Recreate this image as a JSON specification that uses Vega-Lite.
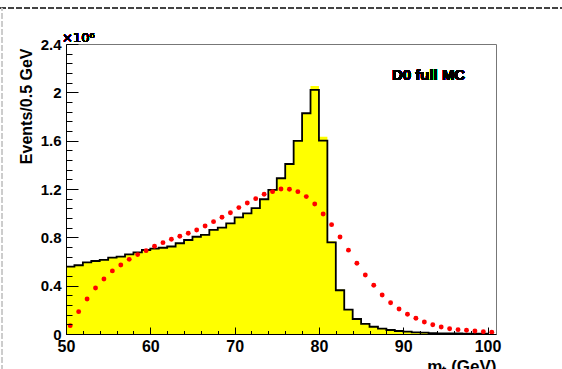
{
  "$schema": "https://vega.github.io/schema/vega-lite/v6.json",
  "width": 430,
  "height": 290,
  "autosize": "none",
  "padding": {"left": 66, "top": 44, "right": 66, "bottom": 35},
  "background": "white",
  "config": {
    "view": {"stroke": "#777", "strokeWidth": 1},
    "axis": {"grid": false, "domainColor": "black", "tickColor": "black", "labelColor": "black", "titleColor": "black", "labelFont": "Liberation Sans", "titleFont": "Liberation Sans", "labelFontWeight": "bold", "titleFontWeight": "bold", "labelOverlap": false, "labelFlush": false}
  },
  "data": {"values": [
    {"lo": 50, "hi": 51, "m": 50.5, "yellow": 557000, "black": 557000, "red": 69000},
    {"lo": 51, "hi": 52, "m": 51.5, "yellow": 569000, "black": 569000, "red": 185000},
    {"lo": 52, "hi": 53, "m": 52.5, "yellow": 593000, "black": 593000, "red": 290000},
    {"lo": 53, "hi": 54, "m": 53.5, "yellow": 604000, "black": 604000, "red": 381000},
    {"lo": 54, "hi": 55, "m": 54.5, "yellow": 613000, "black": 613000, "red": 455000},
    {"lo": 55, "hi": 56, "m": 55.5, "yellow": 632000, "black": 632000, "red": 522000},
    {"lo": 56, "hi": 57, "m": 56.5, "yellow": 640000, "black": 640000, "red": 571000},
    {"lo": 57, "hi": 58, "m": 57.5, "yellow": 659000, "black": 659000, "red": 618000},
    {"lo": 58, "hi": 59, "m": 58.5, "yellow": 676000, "black": 676000, "red": 657000},
    {"lo": 59, "hi": 60, "m": 59.5, "yellow": 695000, "black": 695000, "red": 690000},
    {"lo": 60, "hi": 61, "m": 60.5, "yellow": 706000, "black": 706000, "red": 726000},
    {"lo": 61, "hi": 62, "m": 61.5, "yellow": 714000, "black": 714000, "red": 756000},
    {"lo": 62, "hi": 63, "m": 62.5, "yellow": 724000, "black": 724000, "red": 784000},
    {"lo": 63, "hi": 64, "m": 63.5, "yellow": 751000, "black": 751000, "red": 809000},
    {"lo": 64, "hi": 65, "m": 64.5, "yellow": 778000, "black": 778000, "red": 834000},
    {"lo": 65, "hi": 66, "m": 65.5, "yellow": 805000, "black": 805000, "red": 861000},
    {"lo": 66, "hi": 67, "m": 66.5, "yellow": 820000, "black": 820000, "red": 894000},
    {"lo": 67, "hi": 68, "m": 67.5, "yellow": 861000, "black": 861000, "red": 930000},
    {"lo": 68, "hi": 69, "m": 68.5, "yellow": 880000, "black": 880000, "red": 966000},
    {"lo": 69, "hi": 70, "m": 69.5, "yellow": 916000, "black": 916000, "red": 1004000},
    {"lo": 70, "hi": 71, "m": 70.5, "yellow": 966000, "black": 966000, "red": 1046000},
    {"lo": 71, "hi": 72, "m": 71.5, "yellow": 999000, "black": 999000, "red": 1084000},
    {"lo": 72, "hi": 73, "m": 72.5, "yellow": 1041000, "black": 1041000, "red": 1120000},
    {"lo": 73, "hi": 74, "m": 73.5, "yellow": 1115000, "black": 1115000, "red": 1156000},
    {"lo": 74, "hi": 75, "m": 74.5, "yellow": 1192000, "black": 1192000, "red": 1178000},
    {"lo": 75, "hi": 76, "m": 75.5, "yellow": 1289000, "black": 1289000, "red": 1200000},
    {"lo": 76, "hi": 77, "m": 76.5, "yellow": 1407000, "black": 1407000, "red": 1198000},
    {"lo": 77, "hi": 78, "m": 77.5, "yellow": 1598000, "black": 1598000, "red": 1178000},
    {"lo": 78, "hi": 79, "m": 78.5, "yellow": 1827000, "black": 1827000, "red": 1137000},
    {"lo": 79, "hi": 80, "m": 79.5, "yellow": 2053000, "black": 2020000, "red": 1076000},
    {"lo": 80, "hi": 81, "m": 80.5, "yellow": 1633000, "black": 1600000, "red": 993000},
    {"lo": 81, "hi": 82, "m": 81.5, "yellow": 768000, "black": 759000, "red": 905000},
    {"lo": 82, "hi": 83, "m": 82.5, "yellow": 368000, "black": 362000, "red": 803000},
    {"lo": 83, "hi": 84, "m": 83.5, "yellow": 205000, "black": 201000, "red": 694000},
    {"lo": 84, "hi": 85, "m": 84.5, "yellow": 124000, "black": 124000, "red": 585000},
    {"lo": 85, "hi": 86, "m": 85.5, "yellow": 83000, "black": 83000, "red": 488000},
    {"lo": 86, "hi": 87, "m": 86.5, "yellow": 60000, "black": 60000, "red": 403000},
    {"lo": 87, "hi": 88, "m": 87.5, "yellow": 44000, "black": 44000, "red": 323000},
    {"lo": 88, "hi": 89, "m": 88.5, "yellow": 33000, "black": 33000, "red": 259000},
    {"lo": 89, "hi": 90, "m": 89.5, "yellow": 25000, "black": 25000, "red": 207000},
    {"lo": 90, "hi": 91, "m": 90.5, "yellow": 19000, "black": 19000, "red": 163000},
    {"lo": 91, "hi": 92, "m": 91.5, "yellow": 14000, "black": 14000, "red": 130000},
    {"lo": 92, "hi": 93, "m": 92.5, "yellow": 11000, "black": 11000, "red": 99000},
    {"lo": 93, "hi": 94, "m": 93.5, "yellow": 8000, "black": 8000, "red": 77000},
    {"lo": 94, "hi": 95, "m": 94.5, "yellow": 6000, "black": 6000, "red": 58000},
    {"lo": 95, "hi": 96, "m": 95.5, "yellow": 5000, "black": 5000, "red": 44000},
    {"lo": 96, "hi": 97, "m": 96.5, "yellow": 4000, "black": 4000, "red": 36000},
    {"lo": 97, "hi": 98, "m": 97.5, "yellow": 3000, "black": 3000, "red": 31000},
    {"lo": 98, "hi": 99, "m": 98.5, "yellow": 3000, "black": 3000, "red": 25000},
    {"lo": 99, "hi": 100, "m": 99.5, "yellow": 2000, "black": 2000, "red": 19000},
    {"lo": 100, "hi": 101, "m": 100.5, "yellow": 1000, "black": 1000, "red": 14000}
  ]},
  "layer": [
    {
      "mark": {"type": "area", "interpolate": "step-after", "color": "#ffff00", "opacity": 1},
      "encoding": {
        "x": {"field": "lo", "type": "quantitative", "scale": {"domain": [50, 101], "nice": false, "zero": false},
          "axis": {"values": [50,52,54,56,58,60,62,64,66,68,70,72,74,76,78,80,82,84,86,88,90,92,94,96,98,100],
            "tickCount": 200,
            "labelExpr": "datum.value % 10 === 0 ? format(datum.value, 'd') : ''",
            "labelOverlap": false, "zindex": 1,
            "tickSize": -7,
            "tickDash": {"condition": {"test": "datum.value % 10 === 0", "value": [1000, 1]}, "value": [3.5, 100]},
            "labelPadding": 11, "labelFontSize": 16,
            "title": "mₜ (GeV)", "titleFontSize": 17, "titleAnchor": "end", "titleAlign": "right", "titleBaseline": "top", "titleX": 430, "titleY": 24}},
        "y": {"field": "yellow", "type": "quantitative", "scale": {"domain": [0, 2400000], "nice": false, "zero": true},
          "axis": {"values": [0,80000,160000,240000,320000,400000,480000,560000,640000,720000,800000,880000,960000,1040000,1120000,1200000,1280000,1360000,1440000,1520000,1600000,1680000,1760000,1840000,1920000,2000000,2080000,2160000,2240000,2320000,2400000],
            "tickCount": 200,
            "labelExpr": "datum.value % 400000 === 0 ? format(datum.value / 1000000, '~g') : ''",
            "labelOverlap": false, "zindex": 1,
            "tickSize": -12,
            "tickDash": {"condition": {"test": "datum.value % 400000 === 0", "value": [1000, 1]}, "value": [6, 100]},
            "labelPadding": 17, "labelFontSize": 15,
            "title": "Events/0.5 GeV", "titleFontSize": 16, "titleAlign": "right", "titleBaseline": "middle", "titleX": -40, "titleY": 4, "titleAngle": 270}}
      }
    },
    {
      "mark": {"type": "line", "interpolate": "step-after", "color": "black", "strokeWidth": 1.8},
      "encoding": {
        "x": {"field": "lo", "type": "quantitative"},
        "y": {"field": "black", "type": "quantitative"}
      }
    },
    {
      "mark": {"type": "circle", "color": "#ff0000", "opacity": 1, "size": 24},
      "encoding": {
        "x": {"field": "m", "type": "quantitative"},
        "y": {"field": "red", "type": "quantitative"}
      }
    },
    {
      "mark": {"type": "text", "text": "D0 full MC", "font": "Liberation Sans", "fontWeight": "bold", "fontSize": 15, "align": "center", "baseline": "middle", "color": "black"},
      "encoding": {
        "x": {"datum": 93.0, "type": "quantitative"},
        "y": {"datum": 2144000, "type": "quantitative"}
      }
    },
    {
      "mark": {"type": "text", "text": "×10⁶", "font": "DejaVu Sans", "fontSize": 13, "align": "left", "baseline": "alphabetic", "dx": -4, "dy": -2, "color": "black"},
      "encoding": {
        "x": {"datum": 50, "type": "quantitative"},
        "y": {"datum": 2400000, "type": "quantitative"}
      }
    },
    {
      "mark": {"type": "rule", "color": "#444", "strokeWidth": 1, "strokeDash": [5, 3]},
      "encoding": {
        "x": {"datum": 42.2, "type": "quantitative"},
        "x2": {"datum": 109},
        "y": {"datum": 2698000, "type": "quantitative"}
      }
    },
    {
      "mark": {"type": "rule", "color": "#ccc", "strokeWidth": 1, "strokeDash": [5, 3]},
      "encoding": {
        "x": {"datum": 42.4, "type": "quantitative"},
        "y": {"datum": -300000, "type": "quantitative"},
        "y2": {"datum": 2698000}
      }
    }
  ]
}
